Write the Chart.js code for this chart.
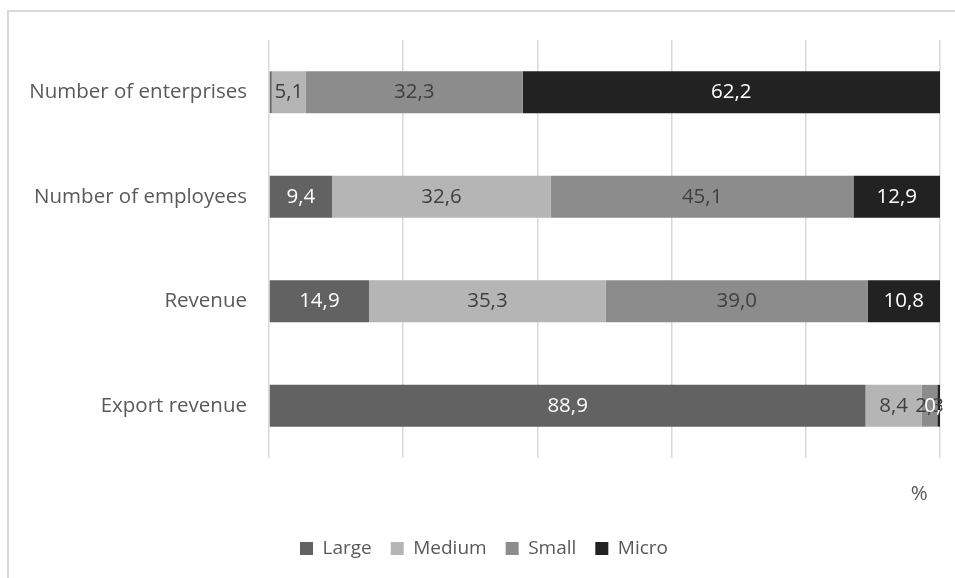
<!DOCTYPE html>
<html>
<head>
<meta charset="utf-8">
<script src="https://cdn.jsdelivr.net/npm/chart.js@4.4.1/dist/chart.umd.min.js"></script>
<style>
  html, body { margin: 0; padding: 0; background: #ffffff; overflow: hidden; }
  #wrap { position: relative; width: 955px; height: 578px; overflow: hidden; }
  #frame { position: absolute; left: 7px; top: 10px; width: 980px; height: 620px;
           border: 2px solid #d9d9d9; box-sizing: border-box; }
  canvas { position: absolute; left: 0; top: 0; }
</style>
</head>
<body>
<div id="wrap">
  <div id="frame"></div>
  <canvas id="chart" width="955" height="578"></canvas>
</div>
<script>
// Share of enterprise size classes, in percent
const categories = ['Number of enterprises', 'Number of employees', 'Revenue', 'Export revenue'];
const large  = [0.4, 9.4, 14.9, 88.9];
const medium = [5.1, 32.6, 35.3, 8.4];
const small  = [32.3, 45.1, 39.0, 2.3];
const micro  = [62.2, 12.9, 10.8, 0.4];
const xTicks = [0, 20, 40, 60, 80, 100];

const FONT = '"Open Sans", "Liberation Sans", sans-serif';
const TEXT = '#595959';
const SIZE = 20.5;

// Value labels centred in each segment, decimal comma
const segmentLabels = {
  id: 'segmentLabels',
  afterDatasetsDraw(chart) {
    const ctx = chart.ctx;
    ctx.save();
    ctx.font = SIZE + 'px ' + FONT;
    ctx.textAlign = 'center';
    ctx.textBaseline = 'middle';
    chart.data.datasets.forEach((ds, di) => {
      const meta = chart.getDatasetMeta(di);
      meta.data.forEach((bar, i) => {
        const v = ds.data[i];
        if (di === 0 && i === 0) return;
        const cx = (bar.x + bar.base) / 2;
        ctx.fillStyle = ds.labelColor;
        ctx.fillText(v.toFixed(1).replace('.', ','), cx, bar.y);
      });
    });
    ctx.restore();
  }
};

// Unit marker under the right end of the value axis
const unitMark = {
  id: 'unitMark',
  afterDraw(chart) {
    const ctx = chart.ctx;
    const x = chart.scales.x;
    ctx.save();
    ctx.font = SIZE + 'px ' + FONT;
    ctx.fillStyle = TEXT;
    ctx.textAlign = 'center';
    ctx.textBaseline = 'middle';
    ctx.fillText('%', x.getPixelForValue(96.9), chart.chartArea.bottom + 36);
    ctx.restore();
  }
};

new Chart(document.getElementById('chart'), {
  type: 'bar',
  data: {
    labels: categories,
    datasets: [
      { label: 'Large',  data: large,  backgroundColor: '#626262', labelColor: '#ffffff' },
      { label: 'Medium', data: medium, backgroundColor: '#b5b5b5', labelColor: '#404040' },
      { label: 'Small',  data: small,  backgroundColor: '#8c8c8c', labelColor: '#404040' },
      { label: 'Micro',  data: micro,  backgroundColor: '#222222', labelColor: '#ffffff' }
    ]
  },
  options: {
    indexAxis: 'y',
    responsive: false,
    animation: false,
    devicePixelRatio: 1,
    datasets: { bar: { barPercentage: 0.4, categoryPercentage: 1.0, borderWidth: 0 } },
    layout: { padding: { top: 40, right: 15, left: 28, bottom: 10 } },
    scales: {
      x: {
        stacked: true,
        min: 0, max: 100,
        afterBuildTicks(scale) { scale.ticks = xTicks.map(v => ({ value: v })); },
        ticks: { display: false },
        grid: { color: '#d9d9d9', lineWidth: 1.5, drawTicks: false },
        border: { display: false },
        afterFit(scale) { scale.height = 62; }
      },
      y: {
        stacked: true,
        grid: { display: false, drawTicks: false },
        border: { display: false },
        ticks: { color: TEXT, font: { family: FONT, size: SIZE }, padding: 22 },
        afterFit(scale) { scale.width = 241; }
      }
    },
    plugins: {
      legend: {
        position: 'bottom',
        labels: {
          color: TEXT,
          font: { family: FONT, size: 19 },
          boxWidth: 13, boxHeight: 13,
          padding: 19
        }
      },
      tooltip: { enabled: false }
    }
  },
  plugins: [segmentLabels, unitMark]
});
</script>
</body>
</html>
